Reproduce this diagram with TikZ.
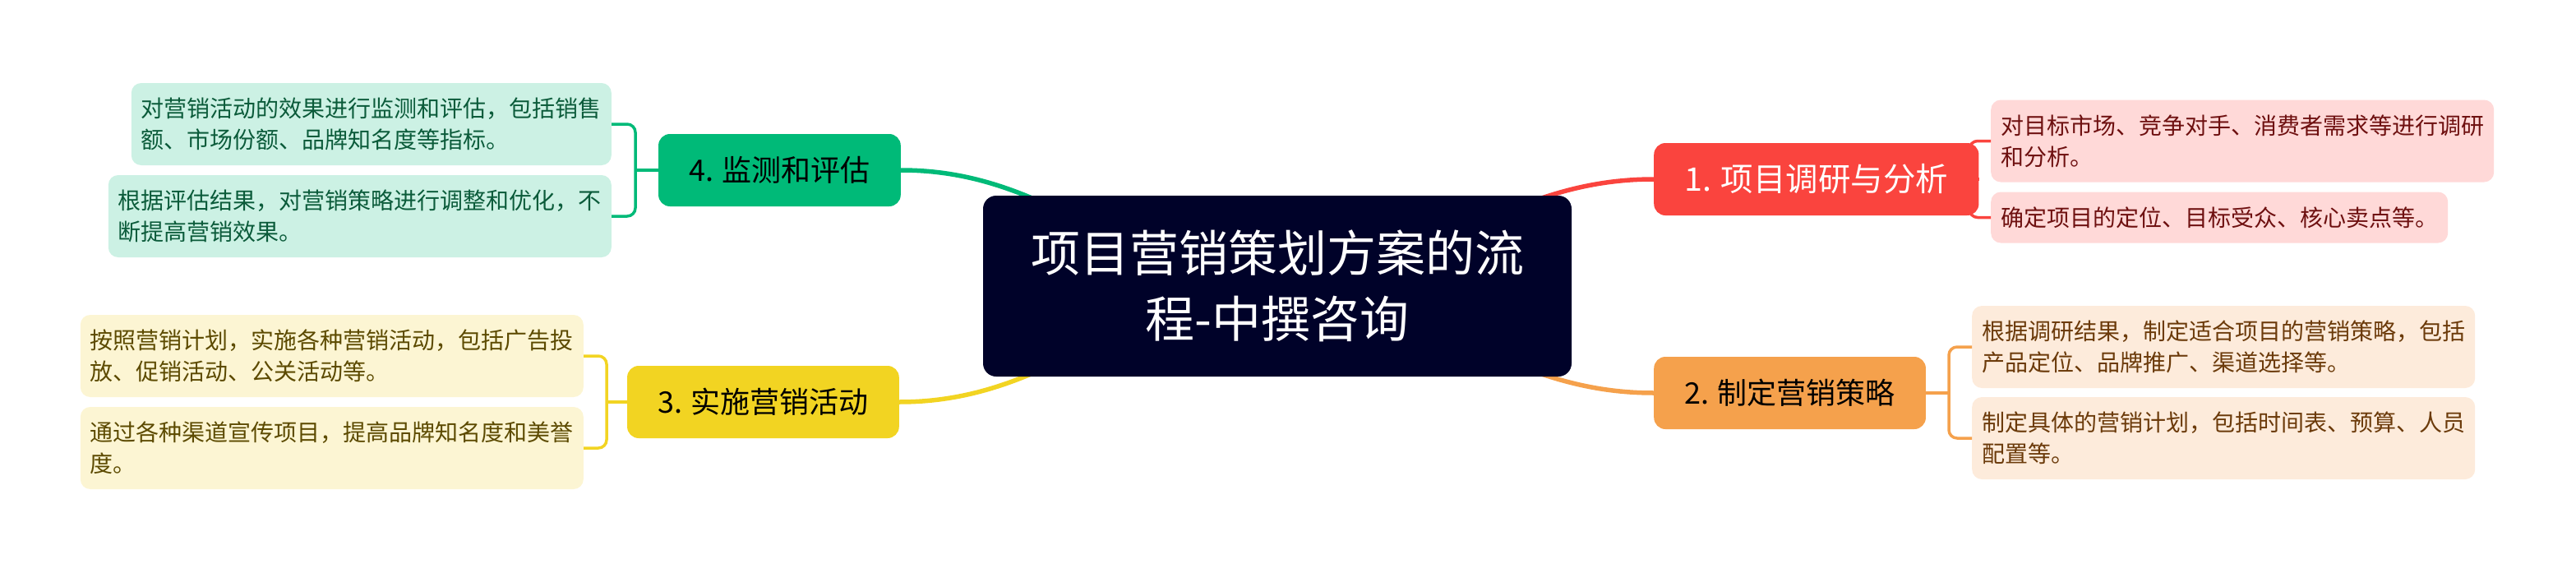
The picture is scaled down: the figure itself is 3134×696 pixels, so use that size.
\documentclass[tikz,border=0pt]{standalone}
\usepackage{fontspec}
\setmainfont{Noto Sans CJK SC}
\usepackage{tikz}
\usetikzlibrary{backgrounds}

\definecolor{rootbg}{HTML}{000229}
\definecolor{redmain}{HTML}{FA443E}
\definecolor{redsub}{HTML}{FFD9D8}
\definecolor{redtext}{HTML}{6E1010}
\definecolor{orgmain}{HTML}{F5A14C}
\definecolor{orgsub}{HTML}{FDEBDB}
\definecolor{orgtext}{HTML}{6B3A0A}
\definecolor{yelmain}{HTML}{F2D422}
\definecolor{yelsub}{HTML}{FCF5D3}
\definecolor{yeltext}{HTML}{5C4A00}
\definecolor{grnmain}{HTML}{00BA78}
\definecolor{grnsub}{HTML}{CCF1E4}
\definecolor{grntext}{HTML}{0B5B3A}

\tikzset{
  rootbox/.style={fill=rootbg, text=white, rounded corners=16pt, align=center, minimum width=716pt, minimum height=220pt, inner sep=0pt, font=\fontsize{60}{80}\selectfont},
  topicbox/.style={rounded corners=14pt, inner xsep=37pt, inner ysep=0pt, minimum height=88pt, font=\fontsize{36}{44}\selectfont},
  notebox/.style={rounded corners=12pt, inner xsep=12pt, inner ysep=0pt, align=left, minimum height=100pt, font=\fontsize{28}{38}\selectfont},
  mainline/.style={line width=5.5pt},
  braceline/.style={line width=3.5pt, rounded corners=10pt}
}

\begin{document}
\begin{tikzpicture}[x=1pt,y=-1pt]
    \useasboundingbox (0,0) rectangle (3134,696);
    \node[rootbox] (root) at (1554,348) {项目营销策划方案的流\\程-中撰咨询};

    \node[topicbox, fill=redmain, text=white, anchor=west, font=\fontsize{39.5}{48}\selectfont] (b1) at (2012,218) {1. 项目调研与分析};
    \node[topicbox, fill=orgmain, text=black, anchor=west] (b2) at (2012,478) {2. 制定营销策略};
    \node[topicbox, fill=yelmain, text=black, anchor=east] (b3) at (1094,489) {3. 实施营销活动};
    \node[topicbox, fill=grnmain, text=black, anchor=east] (b4) at (1096,207) {4. 监测和评估};

    \node[notebox, fill=redsub, text=redtext, anchor=west] (s11) at (2422,171.5) {对目标市场、竞争对手、消费者需求等进行调研\\和分析。};
    \node[notebox, fill=redsub, text=redtext, anchor=west, minimum height=62pt] (s12) at (2422,264.5) {确定项目的定位、目标受众、核心卖点等。};
    \node[notebox, fill=orgsub, text=orgtext, anchor=west] (s21) at (2399,422) {根据调研结果，制定适合项目的营销策略，包括\\产品定位、品牌推广、渠道选择等。};
    \node[notebox, fill=orgsub, text=orgtext, anchor=west] (s22) at (2399,533) {制定具体的营销计划，包括时间表、预算、人员\\配置等。};
    \node[notebox, fill=yelsub, text=yeltext, anchor=east] (s31) at (710,433) {按照营销计划，实施各种营销活动，包括广告投\\放、促销活动、公关活动等。};
    \node[notebox, fill=yelsub, text=yeltext, anchor=east] (s32) at (710,545) {通过各种渠道宣传项目，提高品牌知名度和美誉\\度。};
    \node[notebox, fill=grnsub, text=grntext, anchor=east] (s41) at (744,151) {对营销活动的效果进行监测和评估，包括销售\\额、市场份额、品牌知名度等指标。};
    \node[notebox, fill=grnsub, text=grntext, anchor=east] (s42) at (744,263) {根据评估结果，对营销策略进行调整和优化，不\\断提高营销效果。};

    \coordinate (j1) at (2396,218);
    \coordinate (j2) at (2371,478);
    \coordinate (j3) at (738,489);
    \coordinate (j4) at (773,207);

    \begin{scope}[on background layer]
        \draw[mainline, redmain] (root.center) to[out=3, in=180] (b1.west);
        \draw[mainline, orgmain] (root.center) to[out=-3, in=180] (b2.west);
        \draw[mainline, yelmain] (root.center) to[out=183, in=0] (b3.east);
        \draw[mainline, grnmain] (root.center) to[out=177, in=0] (b4.east);
    \end{scope}

    \draw[braceline, redmain] (b1.east) -- (j1);
    \draw[braceline, redmain] (s11.west) -| (j1) |- (s12.west);
    \draw[braceline, orgmain] (b2.east) -- (j2);
    \draw[braceline, orgmain] (s21.west) -| (j2) |- (s22.west);
    \draw[braceline, yelmain] (b3.west) -- (j3);
    \draw[braceline, yelmain] (s31.east) -| (j3) |- (s32.east);
    \draw[braceline, grnmain] (b4.west) -- (j4);
    \draw[braceline, grnmain] (s41.east) -| (j4) |- (s42.east);
\end{tikzpicture}
\end{document}
